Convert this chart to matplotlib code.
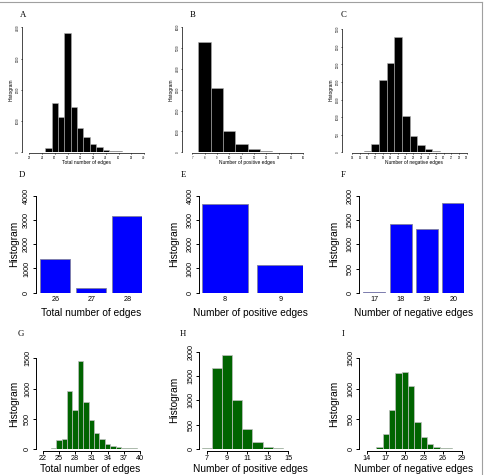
import matplotlib
matplotlib.use("Agg")
import matplotlib.pyplot as plt
from matplotlib.lines import Line2D

# ---------------- data ----------------
a_x = list(range(22, 41))
a_counts = [2, 5, 20, 150, 1590, 1130, 3830, 1450, 790, 490, 267, 170, 75, 50, 30, 15, 10, 5, 3]
a_xticks = list(range(22, 41, 2))
a_yticks = [0, 1000, 2000, 3000, 4000]

b_x = list(range(7, 17))
b_counts = [20, 5310, 3070, 1010, 415, 160, 60, 20, 10, 5]
b_xticks = list(range(7, 17))
b_yticks = [0, 1000, 2000, 3000, 4000, 5000, 6000]

c_x = list(range(14, 30))
c_counts = [3, 8, 40, 240, 2050, 2530, 3270, 1025, 455, 210, 85, 40, 20, 10, 5, 3]
c_xticks = list(range(14, 30))
c_yticks = [0, 500, 1000, 1500, 2000, 2500, 3000, 3500]

d_cats = ["26", "27", "28"]
d_counts = [1405, 192, 3150]
d_yticks = [0, 1000, 2000, 3000, 4000]

e_cats = ["8", "9"]
e_counts = [3645, 1127]
e_yticks = [0, 1000, 2000, 3000, 4000]

f_cats = ["17", "18", "19", "20"]
f_counts = [8, 1420, 1317, 1850]
f_yticks = [0, 500, 1000, 1500, 2000]

g_x = list(range(22, 41))
g_counts = [3, 5, 20, 149, 165, 954, 651, 1462, 778, 485, 270, 171, 77, 55, 39, 15, 12, 10, 5]
g_xticks = [22, 25, 28, 31, 34, 37, 40]
g_yticks = [0, 500, 1000, 1500]

h_x = list(range(7, 17))
h_counts = [20, 1658, 1932, 1000, 411, 150, 41, 15, 10, 5]
h_xticks = [7, 9, 11, 13, 15]
h_yticks = [0, 500, 1000, 1500, 2000]

i_x = list(range(14, 30))
i_counts = [3, 8, 39, 243, 640, 1252, 1274, 1037, 452, 199, 83, 33, 15, 10, 8, 3]
i_xticks = [14, 17, 20, 23, 26, 29]
i_yticks = [0, 500, 1000, 1500]

xlab_total = "Total number of edges"
xlab_pos = "Number of positive edges"
xlab_neg = "Number of negative edges"
ylab = "Histogram"

# ---------------- layout helpers ----------------
W, H, DPI = 485, 475, 100
fig = plt.figure(figsize=(W / DPI, H / DPI), dpi=DPI)
PT = 72.0 / DPI  # points per pixel
SANS = ["Liberation Sans", "DejaVu Sans"]
SERIF = ["Liberation Serif", "DejaVu Serif"]


def make_ax(xmap, ymap, xlim, ylim):
    d0, p0, d1, p1 = xmap
    sx = (p1 - p0) / (d1 - d0)
    left = p0 + (xlim[0] - d0) * sx
    right = p0 + (xlim[1] - d0) * sx
    e0, q0, e1, q1 = ymap
    sy = (q1 - q0) / (e1 - e0)
    bot = q0 + (ylim[0] - e0) * sy
    top = q0 + (ylim[1] - e0) * sy
    ax = fig.add_axes([left / W, 1 - bot / H, (right - left) / W, (bot - top) / H])
    ax.set_xlim(*xlim)
    ax.set_ylim(*ylim)
    ax.patch.set_alpha(0)
    for s in ("top", "right"):
        ax.spines[s].set_visible(False)
    return ax, (left, right, top, bot)


def style(ax, box, yaxis_px, yticks, ylabel_px, xlabel_px, xlabel, fs_tick, fs_lab,
          ticklen, lw, pad, xaxis_px=None, xticks=None):
    left, right, top, bot = box
    ax.spines["left"].set_position(("outward", (left - yaxis_px) * PT))
    ax.spines["left"].set_bounds(yticks[0], yticks[-1])
    ax.spines["left"].set_linewidth(lw)
    ax.set_yticks(yticks)
    ax.set_yticklabels([str(t) for t in yticks], rotation=90, va="center",
                       fontfamily=SANS, fontsize=fs_tick)
    ax.tick_params(axis="y", length=ticklen, width=lw, pad=pad)
    if xaxis_px is not None:
        ax.spines["bottom"].set_position(("outward", (xaxis_px - bot) * PT))
        ax.spines["bottom"].set_bounds(xticks[0], xticks[-1])
        ax.spines["bottom"].set_linewidth(lw)
        ax.set_xticks(xticks)
        ax.set_xticklabels([str(t) for t in xticks], fontfamily=SANS, fontsize=fs_tick)
        ax.tick_params(axis="x", length=ticklen, width=lw, pad=pad)
    else:
        ax.spines["bottom"].set_visible(False)
        ax.tick_params(axis="x", length=0, pad=pad)
    ax.set_ylabel(ylab, fontfamily=SANS, fontsize=fs_lab, va="center", ha="center")
    ax.yaxis.set_label_coords((ylabel_px[0] - left) / (right - left),
                              (bot - ylabel_px[1]) / (bot - top))
    ax.set_xlabel(xlabel, fontfamily=SANS, fontsize=fs_lab, va="center", ha="center")
    ax.xaxis.set_label_coords((xlabel_px[0] - left) / (right - left),
                              (bot - xlabel_px[1]) / (bot - top))


def letter(txt, x, y, fs):
    fig.text(x / W, 1 - y / H, txt, fontfamily=SERIF, fontsize=fs,
             ha="center", va="center")


LETTER_FS = 6.3

# ---------------- top row (black histograms) ----------------
top_specs = [
    (a_x, a_counts, a_xticks, a_yticks, xlab_total, (22, 29.3, 40, 144), (0, 152.3, 4000, 27.3),
     (21.5, 40.5), (0, 4000), 22, (11, 89.8), (86.7, 162.7), "A", (22.7, 15.3)),
    (b_x, b_counts, b_xticks, b_yticks, xlab_pos, (7, 192.3, 16, 303.3), (0, 152.3, 6000, 27.3),
     (6.5, 16.5), (0, 6000), 182, (171, 89.8), (247.5, 162.7), "B", (192.7, 15.3)),
    (c_x, c_counts, c_xticks, c_yticks, xlab_neg, (14, 352.3, 29, 466.7), (0, 152.3, 3500, 29.3),
     (13.5, 29.5), (0, 3500), 342, (331, 89.8), (414.3, 162.7), "C", (343.3, 15.3)),
]
for (xs, cs, xt, yt, xl, xmap, ymap, xlim, ylim, yax, ylp, xlp, let, lp) in top_specs:
    ax, box = make_ax(xmap, ymap, xlim, ylim)
    ax.bar(xs, cs, width=1.0, color="black", edgecolor="#b0b0b0", linewidth=0.4)
    style(ax, box, yax, yt, ylp, xlp, xl, fs_tick=2.0, fs_lab=3.5, ticklen=1.0,
          lw=0.5, pad=0.6, xaxis_px=box[3] + 1.2, xticks=xt)
    letter(let, lp[0], lp[1], LETTER_FS)

# ---------------- middle row (blue barplots) ----------------
mid_specs = [
    (d_cats, d_counts, d_yticks, xlab_total, (0, 55.3, 2.4, 127.3), (0, 292.7, 4000, 195.7),
     (-0.5, 2.9), (0, 4000), 36, (14, 244.2), (90.7, 313.3), "D", (22, 175)),
    (e_cats, e_counts, e_yticks, xlab_pos, (0, 224.8, 1.2, 280.2), (0, 292.7, 4000, 195.7),
     (-0.5, 1.7), (0, 4000), 199.3, (174, 244.2), (250.7, 313.3), "E", (183.3, 175)),
    (f_cats, f_counts, f_yticks, xlab_neg, (0, 374.3, 3.6, 453.3), (0, 292.7, 2000, 196),
     (-0.5, 4.1), (0, 2000), 359.3, (334, 244.2), (413.7, 313.3), "F", (343.3, 175)),
]
for (cats, cs, yt, xl, xmap, ymap, xlim, ylim, yax, ylp, xlp, let, lp) in mid_specs:
    ax, box = make_ax(xmap, ymap, xlim, ylim)
    pos = [1.2 * k for k in range(len(cats))]
    ax.bar(pos, cs, width=1.0, color="#0000ff", edgecolor="#8080a0", linewidth=0.6)
    ax.set_xticks(pos)
    ax.set_xticklabels(cats, fontfamily=SANS, fontsize=5.2)
    style(ax, box, yax, yt, ylp, xlp, xl, fs_tick=5.2, fs_lab=7.3, ticklen=2.0,
          lw=0.7, pad=2.2)
    letter(let, lp[0], lp[1], LETTER_FS)

# ---------------- bottom row (green histograms) ----------------
bot_specs = [
    (g_x, g_counts, g_xticks, g_yticks, xlab_total, (22, 42.7, 40, 140), (0, 449, 1500, 358.3),
     (21.5, 40.5), (0, 1500), 36, (14, 403.7), (90.3, 469), "G", (20.7, 334)),
    (h_x, h_counts, h_xticks, h_yticks, xlab_pos, (7, 206.7, 15, 288), (0, 449, 2000, 351.7),
     (6.5, 16.5), (0, 2000), 199.3, (174, 400.3), (250.8, 469), "H", (182.7, 334)),
    (i_x, i_counts, i_xticks, i_yticks, xlab_neg, (14, 366.7, 29, 461.7), (0, 449, 1500, 358.3),
     (13.5, 29.5), (0, 1500), 359.3, (334, 403.7), (413.7, 469), "I", (342.7, 334)),
]
for (xs, cs, xt, yt, xl, xmap, ymap, xlim, ylim, yax, ylp, xlp, let, lp) in bot_specs:
    ax, box = make_ax(xmap, ymap, xlim, ylim)
    ax.bar(xs, cs, width=1.0, color="#006400", edgecolor="#c0c0c0", linewidth=0.5)
    style(ax, box, yax, yt, ylp, xlp, xl, fs_tick=5.2, fs_lab=7.3, ticklen=2.0,
          lw=0.7, pad=1.5, xaxis_px=box[3] + 1.5, xticks=xt)
    letter(let, lp[0], lp[1], LETTER_FS)

# ---------------- frame ----------------
fig.add_artist(Line2D([0, 482.5 / W], [1 - 2 / H, 1 - 2 / H], color="#a0a0a0", lw=0.8))
fig.add_artist(Line2D([482.5 / W, 482.5 / W], [1 - 2 / H, 0], color="#a0a0a0", lw=0.8))

fig.savefig("out.png", dpi=DPI)
